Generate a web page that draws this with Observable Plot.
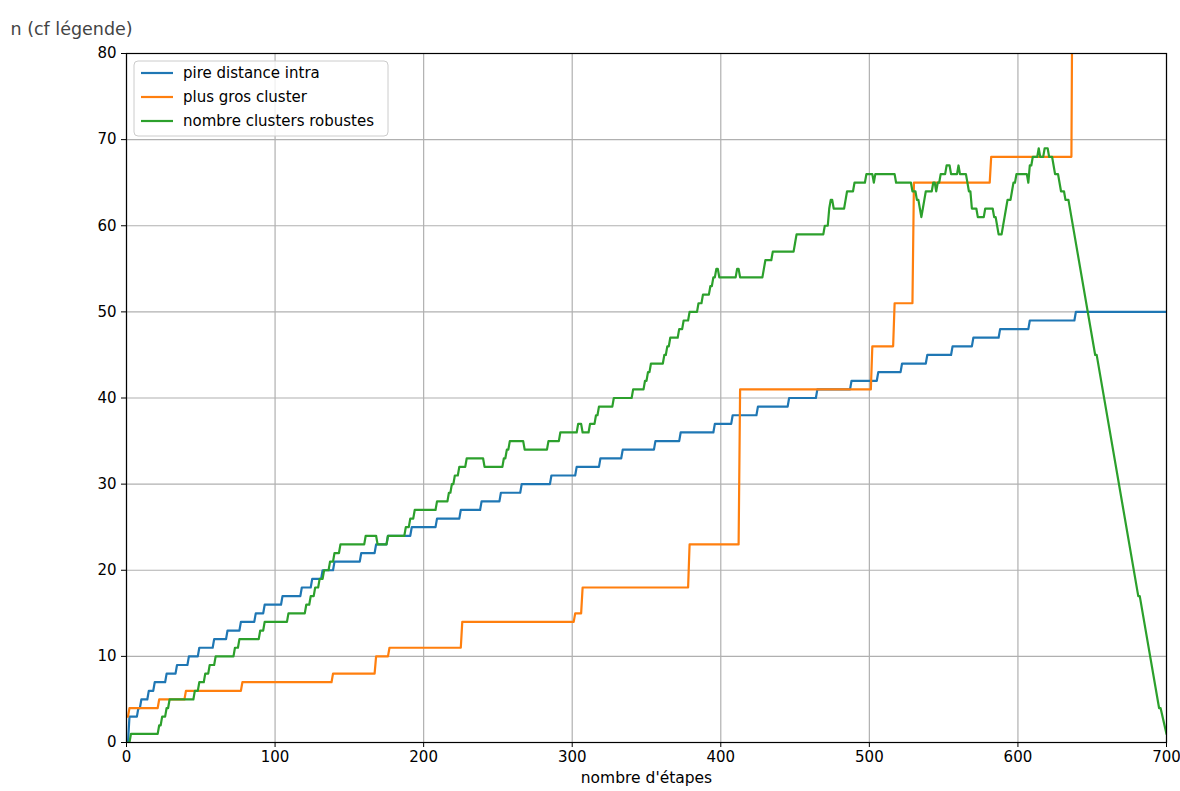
<!DOCTYPE html>
<html>
<head>
<meta charset="utf-8">
<script src="https://cdn.jsdelivr.net/npm/d3@7"></script>
<script src="https://cdn.jsdelivr.net/npm/@observablehq/plot@0.6"></script>
<style>
  html, body { margin: 0; padding: 0; background: #fff; }
  #chart svg { display: block; }
</style>
</head>
<body>
<div id="chart"></div>
<script>
// ---- data ----
const seriesNames = ["pire distance intra", "plus gros cluster", "nombre clusters robustes"];
const seriesColors = ["#1f77b4", "#ff7f0e", "#2ca02c"];
const xTicks = [0, 100, 200, 300, 400, 500, 600, 700];
const yTicks = [0, 10, 20, 30, 40, 50, 60, 70, 80];
const xLabel = "nombre d'étapes";
const yLabel = "n (cf légende)";
const lastStep = 700;

// [step, new value] : value reached at that step
const blueChanges = [[0,0],[2,3],[8,4],[10,5],[15,6],[19,7],[27,8],[34,9],[42,10],[49,11],[59,12],[68,13],[77,14],[87,15],[93,16],[105,17],[118,18],[125,19],[132,20],[140,21],[158,22],[168,23],[176,24],[192,25],[209,26],[225,27],[239,28],[252,29],[266,30],[286,31],[303,32],[319,33],[334,34],[356,35],[373,36],[396,37],[408,38],[425,39],[446,40],[465,41],[488,42],[506,43],[522,44],[539,45],[556,46],[570,47],[588,48],[608,49],[639,50]];

const orangeChanges = [[0,3],[2,4],[22,5],[40,6],[78,7],[139,8],[168,10],[177,11],[226,14],[302,15],[307,18],[379,23],[413,41],[502,46],[517,51],[530,65],[582,68],[637,100]];

const greenChanges = [[0,0],[3,1],[22,2],[24,3],[27,4],[29,5],[46,6],[49,7],[53,8],[56,9],[60,10],[73,11],[76,12],[90,13],[93,14],[109,15],[121,16],[124,17],[127,18],[130,19],[133,20],[137,21],[140,22],[144,23],[161,24],[169,23],[176,24],[188,25],[191,26],[194,27],[209,28],[217,29],[219,30],[221,31],[224,32],[229,33],[241,32],[254,33],[256,34],[258,35],[268,34],[284,35],[292,36],[304,37],[307,36],[312,37],[316,38],[318,39],[328,40],[341,41],[349,42],[351,43],[353,44],[362,45],[364,46],[366,47],[372,48],[375,49],[379,50],[385,51],[388,52],[393,53],[395,54],[397,55],[399,54],[411,55],[413,54],[429,55],[430,56],[435,57],[450,58],[451,59],[470,60],[473,62],[474,63],[476,62],[484,63],[485,64],[490,65],[498,66],[503,65],[504,66],[518,65],[529,64],[532,63],[534,62],[535,61],[536,62],[537,63],[538,64],[543,65],[545,64],[546,65],[548,66],[552,67],[555,66],[560,67],[561,66],[566,65],[567,64],[569,62],[573,61],[578,62],[584,61],[586,60],[587,59],[590,60],[591,61],[592,62],[593,63],[596,64],[597,65],[599,66],[607,65],[608,67],[610,68],[614,69],[615,68],[618,69],[621,68],[624,67],[625,66],[628,65],[629,64],[632,63]];
// final descent of the green series, as read vertices [step, value]
const greenTail = [[634,63],[652,45],[653,45],[681,17],[682,17],[695,4],[696,4],[700,1]];

// ---- build polylines ----
function stepPolyline(changes) {
  const pts = [];
  changes.forEach(([s, v], i) => {
    if (i > 0) pts.push([s - 1, changes[i - 1][1]]);
    pts.push([s, v]);
  });
  return pts;
}
const bluePts = stepPolyline(blueChanges);
bluePts.push([lastStep, blueChanges[blueChanges.length - 1][1]]);
const orangePts = stepPolyline(orangeChanges);
orangePts.push([lastStep, orangeChanges[orangeChanges.length - 1][1]]);
const greenPts = stepPolyline(greenChanges).concat(greenTail);

const rows = [];
[bluePts, orangePts, greenPts].forEach((pts, k) => {
  pts.forEach(([s, v]) => rows.push({series: seriesNames[k], step: s, value: v}));
});

// legend render mark
function legendMark(index, scales, values, dimensions) {
  const g = d3.create("svg:g");
  const x0 = dimensions.marginLeft + 8, y0 = dimensions.marginTop + 8;
  g.append("rect")
    .attr("x", x0).attr("y", y0).attr("width", 254).attr("height", 75)
    .attr("rx", 4).attr("fill", "white").attr("fill-opacity", 0.8)
    .attr("stroke", "#cccccc").attr("stroke-width", 1);
  seriesNames.forEach((name, i) => {
    const yy = y0 + 12 + i * 24;
    g.append("line").attr("x1", x0 + 7).attr("x2", x0 + 39).attr("y1", yy).attr("y2", yy)
      .attr("stroke", seriesColors[i]).attr("stroke-width", 2.2);
    g.append("text").attr("x", x0 + 49).attr("y", yy).attr("dy", "0.35em")
      .attr("text-anchor", "start").attr("font-size", "15px")
      .attr("fill", "black").text(name);
  });
  return g.node();
}

const chart = Plot.plot({
  width: 1180,
  height: 791,
  marginLeft: 126,
  marginRight: 14,
  marginTop: 53,
  marginBottom: 49,
  style: {fontFamily: "DejaVu Sans, sans-serif", fontSize: "15px", color: "black", background: "white"},
  x: {domain: [0, 700]},
  y: {domain: [0, 80]},
  color: {domain: seriesNames, range: seriesColors},
  marks: [
    Plot.gridX(xTicks, {stroke: "#b0b0b0", strokeOpacity: 1, strokeWidth: 1.2}),
    Plot.gridY(yTicks, {stroke: "#b0b0b0", strokeOpacity: 1, strokeWidth: 1.2}),
    Plot.line(rows, {x: "step", y: "value", z: "series", stroke: "series", strokeWidth: 2.2, clip: true}),
    Plot.frame({stroke: "black", strokeWidth: 1.2}),
    Plot.axisX(xTicks, {tickSize: 5, tickPadding: 4, label: null, stroke: "black", fontSize: 15}),
    Plot.axisY(yTicks, {tickSize: 5, tickPadding: 5, label: null, stroke: "black", fontSize: 15}),
    Plot.text([yLabel], {text: d => d, frameAnchor: "top-left", dx: -116, dy: -31, textAnchor: "start", fill: "#444", fontSize: 17.5}),
    Plot.text([xLabel], {text: d => d, frameAnchor: "bottom", dy: 40, fill: "black", fontSize: 15.5}),
    legendMark
  ]
});
document.getElementById("chart").appendChild(chart);
</script>
</body>
</html>
